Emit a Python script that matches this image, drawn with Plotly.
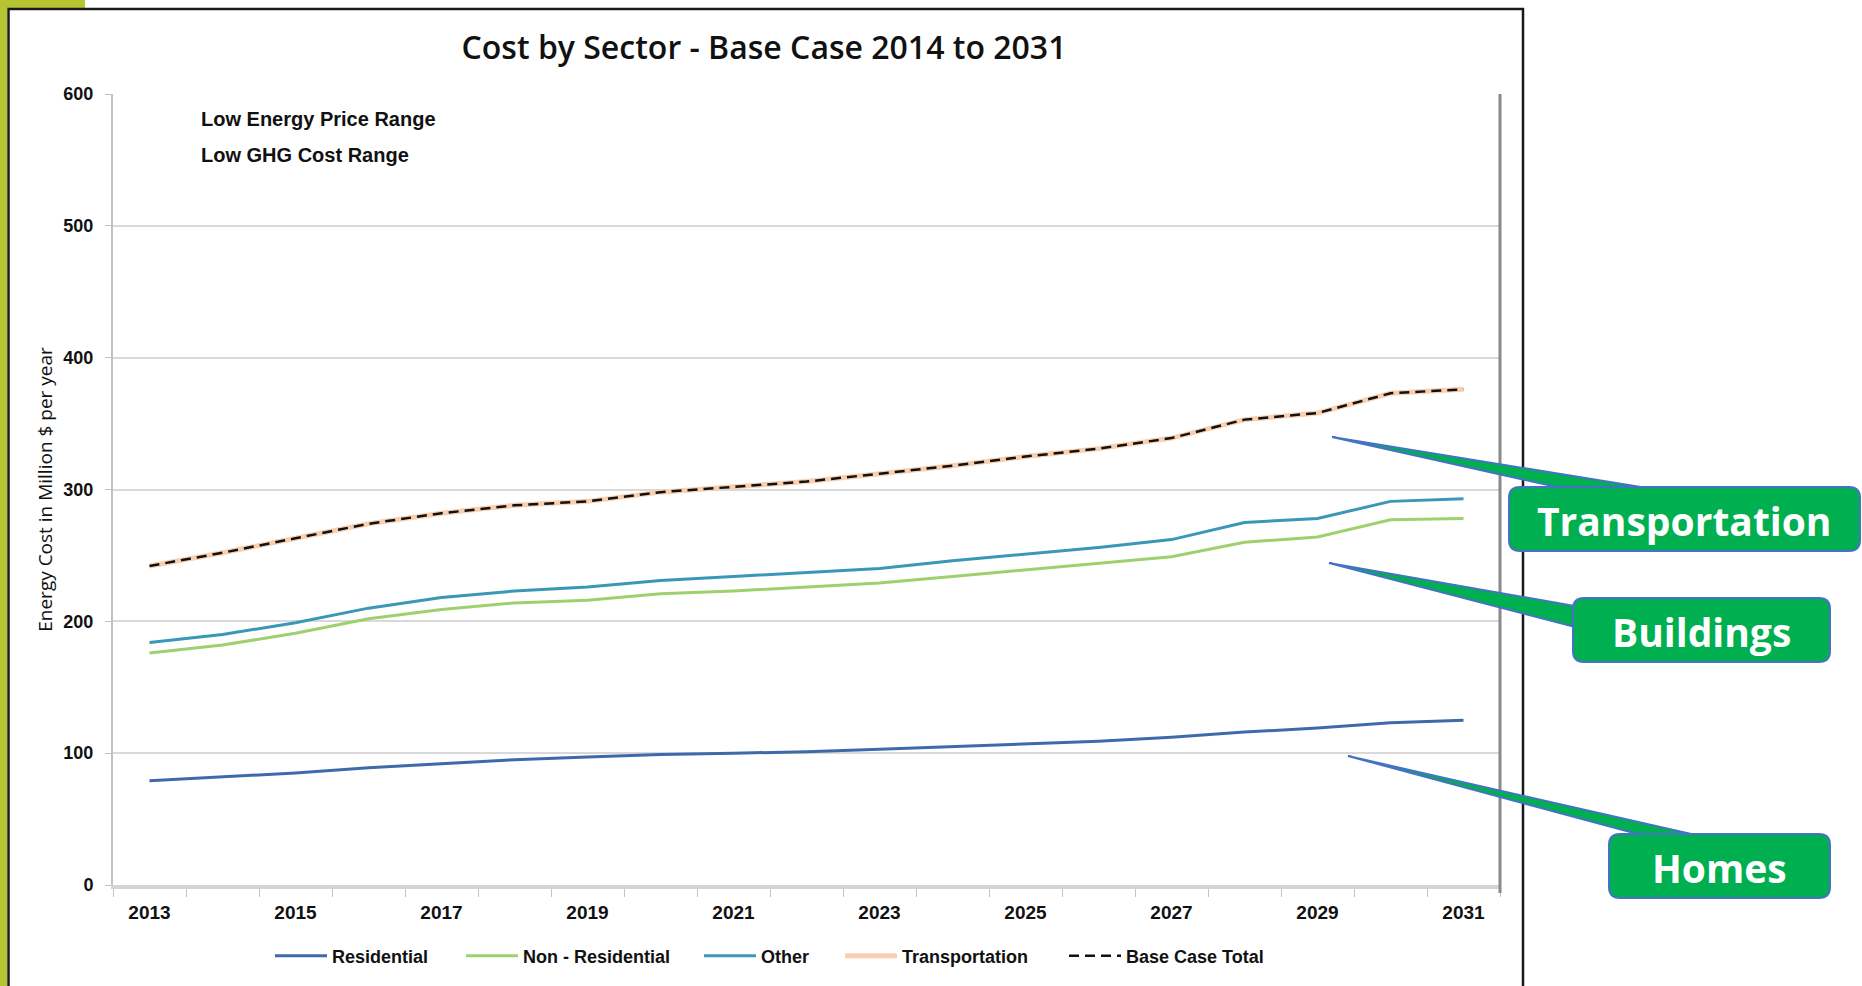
import plotly.graph_objects as go

# ---- data (million $ per year) ----
years = list(range(2013, 2032))
residential = [79, 82, 85, 89, 92, 95, 97, 99, 100, 101, 103, 105, 107, 109, 112, 116, 119, 123, 125]
non_residential = [176, 182, 191, 202, 209, 214, 216, 221, 223, 226, 229, 234, 239, 244, 249, 260, 264, 277, 278]
other = [184, 190, 199, 210, 218, 223, 226, 231, 234, 237, 240, 246, 251, 256, 262, 275, 278, 291, 293]
transportation = [242, 252, 263, 274, 282, 288, 291, 298, 302, 306, 312, 318, 325, 331, 339, 353, 358, 373, 376]
base_case_total = [242, 252, 263, 274, 282, 288, 291, 298, 302, 306, 312, 318, 325, 331, 339, 353, 358, 373, 376]
year_labels = [str(y) for y in years[::2]]

# ---- page geometry (pixels) ----
FIG_W, FIG_H = 1862, 986
L, R, T, B = 113, 1500, 94, 885
PW, PH = R - L, B - T


def fx(p):
    return (p - L) / PW


def fy(p):
    return (B - p) / PH


def rounded_box(x0, y0, x1, y1, r=11):
    rx, ry = r / PW, r / PH
    a, b, c, d = fx(x0), fx(x1), fy(y1), fy(y0)  # left, right, bottom, top
    return (f"M{a+rx},{d} L{b-rx},{d} Q{b},{d} {b},{d-ry} "
            f"L{b},{c+ry} Q{b},{c} {b-rx},{c} L{a+rx},{c} "
            f"Q{a},{c} {a},{c+ry} L{a},{d-ry} Q{a},{d} {a+rx},{d} Z")


def wedge(tip, p1, p2):
    return (f"M{fx(tip[0])},{fy(tip[1])} L{fx(p1[0])},{fy(p1[1])} "
            f"L{fx(p2[0])},{fy(p2[1])} Z")


series = [
    ("Residential", residential, dict(color="#3f6aa9", width=3), 276),
    ("Non - Residential", non_residential, dict(color="#9fd070", width=3), 467),
    ("Other", other, dict(color="#3a97b6", width=3), 705),
    ("Transportation", transportation, dict(color="#f9cfb0", width=5), 846),
    ("Base Case Total", base_case_total, dict(color="#111111", width=2.5, dash="10px,6px"), 1070),
]

legend_font = dict(family="Liberation Sans, Arial, sans-serif", size=18, color="#111111", weight="bold")

fig = go.Figure()
legend_layouts = {}
for i, (name, values, line, lx) in enumerate(series):
    key = "legend" if i == 0 else f"legend{i + 1}"
    fig.add_trace(go.Scatter(x=years, y=values, name=name, mode="lines", line=line, legend=key))
    legend_layouts[key] = dict(orientation="h", x=fx(lx - 6), xanchor="left", y=fy(956), yanchor="middle",
                               font=legend_font, bgcolor="rgba(0,0,0,0)", itemwidth=52,
                               borderwidth=0)

tick_font = dict(family="Liberation Sans, Arial, sans-serif", size=19, color="#111111", weight="bold")

fig.update_xaxes(
    range=[2012.5, 2031.5],
    tickmode="array", tickvals=years[::2], ticktext=year_labels,
    ticks="", ticklabelstandoff=7,
    tickfont=tick_font,
    showgrid=False, zeroline=False,
    showline=True, linecolor="#d4d4d4", linewidth=4,
    minor=dict(ticks="outside", tick0=2012.5, dtick=1, ticklen=8,
               tickcolor="#c4c4c4", tickwidth=1, showgrid=False),
)
fig.update_yaxes(
    range=[0, 600], dtick=100,
    showgrid=True, gridcolor="#d9d9d9", gridwidth=2,
    zeroline=False,
    showline=True, linecolor="#c2c2c2", linewidth=2,
    ticks="outside", ticklen=6, tickcolor="#c2c2c2",
    ticklabelstandoff=8,
    tickfont=dict(tick_font, size=18),
    title=dict(text="Energy Cost in Million $ per year",
               font=dict(family="Open Sans, sans-serif", size=19, color="#111111", weight=500),
               standoff=6),
)

shapes = []
# outer green page accents
shapes.append(dict(type="rect", xref="paper", yref="paper", x0=fx(0), x1=fx(7), y0=fy(FIG_H + 5), y1=fy(-5),
                   fillcolor="#b6c42f", line=dict(width=0), layer="above"))
shapes.append(dict(type="rect", xref="paper", yref="paper", x0=fx(0), x1=fx(85), y0=fy(8), y1=fy(-5),
                   fillcolor="#b6c42f", line=dict(width=0), layer="above"))
# chart frame
shapes.append(dict(type="rect", xref="paper", yref="paper", x0=fx(8.5), x1=fx(1523), y0=fy(FIG_H + 10), y1=fy(9),
                   line=dict(color="#1a1a1a", width=2.5), layer="above"))
# right edge of the plot area
shapes.append(dict(type="line", xref="paper", yref="paper", x0=fx(1500), x1=fx(1500), y0=fy(893), y1=fy(94),
                   line=dict(color="#8a8a8a", width=3), layer="above"))

green, blue = "#00b050", "#4472c4"
# callout pointers
for tip, p1, p2 in [((1332, 437), (1653, 489), (1566, 489)),
                    ((1329, 563), (1575, 606), (1575, 627)),
                    ((1348, 756), (1700, 836), (1645, 836))]:
    shapes.append(dict(type="path", xref="paper", yref="paper", path=wedge(tip, p1, p2),
                       fillcolor=green, line=dict(color=blue, width=2), layer="above"))
# callout boxes
boxes = [((1509, 487, 1860, 551), "Transportation"),
         ((1573, 598, 1830, 662), "Buildings"),
         ((1609, 834, 1830, 898), "Homes")]
annotations = []
for (x0, y0, x1, y1), label in boxes:
    shapes.append(dict(type="path", xref="paper", yref="paper", path=rounded_box(x0, y0, x1, y1),
                       fillcolor=green, line=dict(color=blue, width=2), layer="above"))
    annotations.append(dict(xref="paper", yref="paper", x=fx((x0 + x1) / 2), y=fy((y0 + y1) / 2 + 1),
                            text=label, showarrow=False, xanchor="center", yanchor="middle",
                            font=dict(family="Open Sans, sans-serif", size=39, color="white", weight="bold")))

note_font = dict(family="Liberation Sans, Arial, sans-serif", size=20, color="#111111", weight="bold")
annotations.append(dict(xref="paper", yref="paper", x=fx(199), y=fy(119), text="Low Energy Price Range",
                        showarrow=False, xanchor="left", yanchor="middle", font=note_font))
annotations.append(dict(xref="paper", yref="paper", x=fx(199), y=fy(155), text="Low GHG Cost Range",
                        showarrow=False, xanchor="left", yanchor="middle", font=note_font))

fig.update_layout(
    width=FIG_W, height=FIG_H,
    margin=dict(l=L, r=FIG_W - R, t=T, b=FIG_H - B, autoexpand=False),
    paper_bgcolor="white", plot_bgcolor="white",
    title=dict(text="Cost by Sector - Base Case 2014 to 2031",
               x=764 / FIG_W, xref="container", xanchor="center",
               y=1 - 48 / FIG_H, yref="container", yanchor="middle",
               font=dict(family="Open Sans, sans-serif", size=32, color="#111111", weight=600)),
    showlegend=True,
    shapes=shapes,
    annotations=annotations,
    **legend_layouts,
)

fig.write_html("out.html")
